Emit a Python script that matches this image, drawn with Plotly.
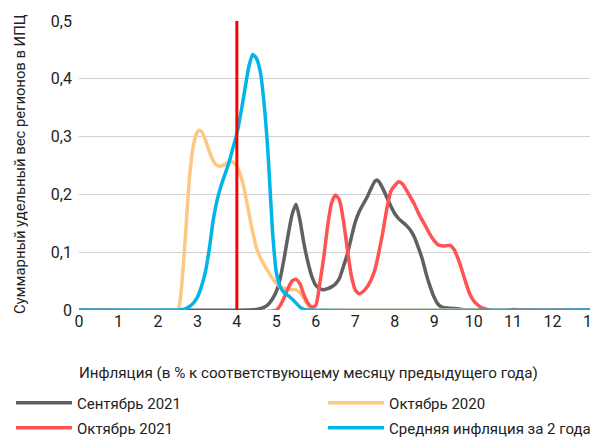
import plotly.graph_objects as go

# ---- data ----
sep2021_x = [0, 4.3, 4.5, 4.7, 4.8, 4.9, 5.0, 5.1, 5.2, 5.3, 5.4, 5.5, 5.6, 5.7, 5.8, 5.9, 6.0, 6.1, 6.2,
             6.3, 6.4, 6.5, 6.6, 6.7, 6.8, 6.9, 7.0, 7.1, 7.2, 7.3, 7.4, 7.5, 7.55, 7.6, 7.7, 7.8, 7.9,
             8.0, 8.1, 8.2, 8.3, 8.4, 8.5, 8.6, 8.7, 8.8, 8.9, 9.0, 9.1, 9.2, 9.4, 9.6, 9.8, 13]
sep2021_y = [0, 0, 0.001, 0.005, 0.01, 0.019, 0.032, 0.055, 0.09, 0.13, 0.165, 0.183, 0.155, 0.115, 0.083,
             0.058, 0.043, 0.037, 0.035, 0.037, 0.04, 0.045, 0.055, 0.075, 0.097, 0.125, 0.152, 0.17,
             0.183, 0.195, 0.21, 0.223, 0.225, 0.222, 0.21, 0.195, 0.18, 0.167, 0.158, 0.152, 0.146,
             0.138, 0.126, 0.108, 0.088, 0.062, 0.04, 0.022, 0.01, 0.005, 0.003, 0.002, 0, 0]

oct2020_x = [0, 2.5, 2.55, 2.6, 2.7, 2.8, 2.9, 3.0, 3.05, 3.1, 3.2, 3.3, 3.4, 3.5, 3.6, 3.7, 3.8, 3.9,
             4.0, 4.1, 4.2, 4.3, 4.4, 4.5, 4.6, 4.7, 4.8, 4.9, 5.0, 5.1, 5.3, 5.5, 5.6, 5.7, 5.8, 5.9,
             6.0, 6.2, 13]
oct2020_y = [0, 0, 0.01, 0.04, 0.13, 0.23, 0.285, 0.308, 0.311, 0.309, 0.295, 0.275, 0.258, 0.25, 0.249,
             0.252, 0.256, 0.256, 0.248, 0.232, 0.205, 0.17, 0.135, 0.107, 0.09, 0.077, 0.066, 0.055,
             0.046, 0.04, 0.036, 0.035, 0.03, 0.02, 0.008, 0.001, -0.001, 0, 0]

oct2021_x = [0, 5.0, 5.1, 5.2, 5.3, 5.4, 5.5, 5.6, 5.7, 5.8, 5.9, 6.0, 6.1, 6.2, 6.3, 6.4, 6.5, 6.6, 6.7,
             6.8, 6.9, 7.0, 7.1, 7.2, 7.3, 7.4, 7.5, 7.6, 7.7, 7.8, 7.9, 8.0, 8.1, 8.2, 8.3, 8.4, 8.5,
             8.6, 8.7, 8.8, 8.9, 9.0, 9.1, 9.2, 9.3, 9.4, 9.5, 9.6, 9.7, 9.8, 9.9, 10.0, 10.1, 10.2,
             10.4, 10.6, 10.8, 11.0, 11.2, 13]
oct2021_y = [0, 0, 0.008, 0.022, 0.038, 0.05, 0.053, 0.045, 0.026, 0.012, 0.005, 0.008, 0.045, 0.09,
             0.145, 0.185, 0.199, 0.19, 0.155, 0.105, 0.06, 0.035, 0.028, 0.032, 0.04, 0.052, 0.07, 0.1,
             0.135, 0.175, 0.205, 0.215, 0.222, 0.218, 0.207, 0.195, 0.183, 0.168, 0.155, 0.143, 0.13,
             0.12, 0.113, 0.111, 0.111, 0.112, 0.105, 0.09, 0.07, 0.048, 0.028, 0.016, 0.009, 0.004,
             0.0, -0.003, -0.002, 0.001, 0, 0]

avg2y_x = [0, 2.5, 2.7, 2.8, 2.9, 3.0, 3.1, 3.2, 3.3, 3.4, 3.5, 3.6, 3.7, 3.8, 3.9, 4.0, 4.1, 4.2, 4.3,
           4.4, 4.5, 4.6, 4.7, 4.8, 4.9, 5.0, 5.1, 5.2, 5.3, 5.4, 5.5, 5.6, 5.7, 5.8, 13]
avg2y_y = [0, 0, 0.002, 0.006, 0.012, 0.022, 0.04, 0.065, 0.105, 0.155, 0.19, 0.215, 0.235, 0.255, 0.28,
           0.305, 0.34, 0.38, 0.42, 0.442, 0.435, 0.41, 0.35, 0.26, 0.14, 0.065, 0.04, 0.03, 0.025,
           0.019, 0.012, 0.005, 0.001, 0, 0]

names = ["Сентябрь 2021", "Октябрь 2020", "Октябрь 2021", "Средняя инфляция за 2 года"]
colors = ["#606060", "#FFC882", "#FF5252", "#00B6E8"]
TARGET = 4

x_ticks = list(range(0, 14))
y_ticks = [0, 0.1, 0.2, 0.3, 0.4, 0.5]
y_ticktext = ["0", "0,1", "0,2", "0,3", "0,4", "0,5"]

FONT = "Roboto"
TXT = "#222222"

legend_ids = ["legend", "legend2", "legend3", "legend4"]
# legend placement (container fractions): col x, row y
legend_pos = [(0.005, 0.079), (0.534, 0.079), (0.005, 0.021), (0.534, 0.021)]

fig = go.Figure()
for xs, ys, nm, c, lg in zip([sep2021_x, oct2020_x, oct2021_x, avg2y_x],
                             [sep2021_y, oct2020_y, oct2021_y, avg2y_y], names, colors, legend_ids):
    fig.add_trace(go.Scatter(x=xs, y=ys, name=nm, mode="lines", legend=lg,
                             line=dict(color=c, width=3.5, shape="spline", smoothing=0.6)))

fig.add_shape(type="line", x0=TARGET, x1=TARGET, y0=0, y1=0.5, xref="x", yref="y",
              line=dict(color="#FF0000", width=3))

legends = {}
for lg, (lx, ly) in zip(legend_ids, legend_pos):
    legends[lg] = dict(xref="container", yref="container", x=lx, y=ly, xanchor="left",
                       yanchor="middle", font=dict(family=FONT, size=15, color=TXT),
                       itemwidth=56, bgcolor="rgba(0,0,0,0)")

# page body has an 8px default margin, so the figure is 8px smaller than the window
fig.update_layout(
    width=590, height=429,
    margin=dict(l=71, r=6, t=13, b=127, autoexpand=False),
    paper_bgcolor="white", plot_bgcolor="white",
    font=dict(family=FONT, color=TXT, size=15),
    showlegend=True,
    xaxis=dict(range=[0, 13], tickvals=x_ticks, showgrid=False, zeroline=False, showline=False,
               ticks="", tickfont=dict(size=16), ticklabeloverflow="allow"),
    yaxis=dict(range=[0, 0.5], tickvals=y_ticks, ticktext=y_ticktext, showgrid=True,
               gridcolor="#D0D0D0", gridwidth=1, zeroline=False, showline=False, ticks="",
               tickfont=dict(size=16), ticklabelstandoff=6),
    annotations=[
        dict(text="Инфляция (в % к соответствующему месяцу предыдущего года)", xref="paper",
             yref="paper", x=-0.004, y=-0.218, xanchor="left", yanchor="middle", showarrow=False,
             font=dict(size=15.2)),
        dict(text="Суммарный удельный вес регионов в ИПЦ", xref="paper", yref="paper",
             x=-0.115, y=0.505, textangle=-90, xanchor="center", yanchor="middle",
             showarrow=False, font=dict(size=14.8)),
    ],
    **legends,
)

fig.write_html("out.html")
